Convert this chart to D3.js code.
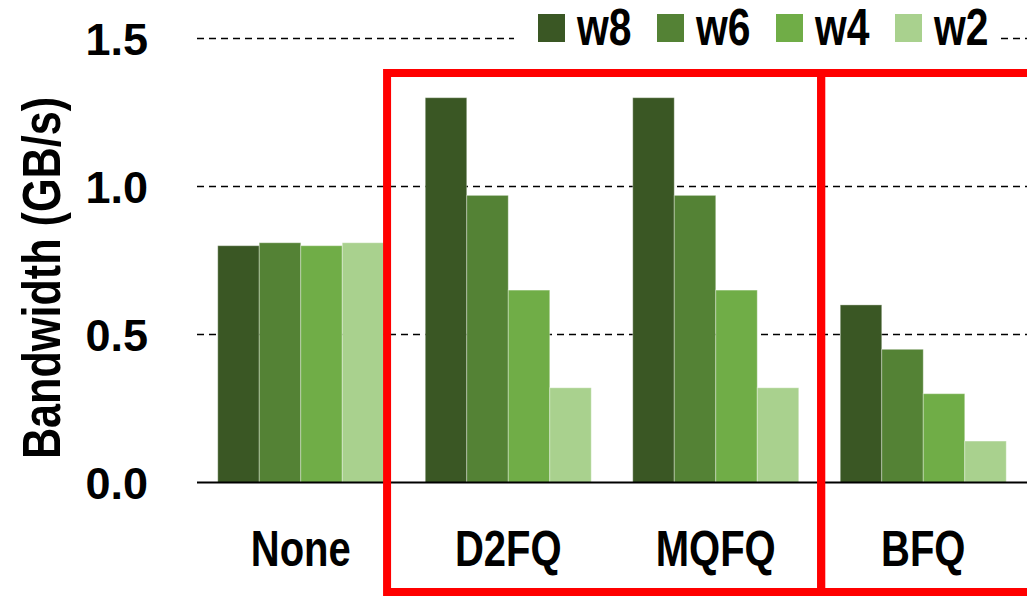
<!DOCTYPE html>
<html>
<head>
<meta charset="utf-8">
<script src="https://cdn.jsdelivr.net/npm/d3@7"></script>
<style>
  html, body { margin: 0; padding: 0; background: #fff; }
  svg { display: block; }
</style>
</head>
<body>
<svg id="chart" width="1027" height="596"></svg>
<script>
const categories = ["None", "D2FQ", "MQFQ", "BFQ"];
const seriesNames = ["w8", "w6", "w4", "w2"];
const w8 = [0.80, 1.30, 1.30, 0.60];
const w6 = [0.81, 0.97, 0.97, 0.45];
const w4 = [0.80, 0.65, 0.65, 0.30];
const w2 = [0.81, 0.32, 0.32, 0.14];
const seriesColors = ["#3A5724", "#548235", "#70AD47", "#A9D18E"];
const yTicks = [0, 0.5, 1.0, 1.5];
const yTickLabels = ["0.0", "0.5", "1.0", "1.5"];
const yTitle = "Bandwidth (GB/s)";
const highlightGroups = [["D2FQ", "MQFQ"], ["BFQ"]];

const seriesValues = [w8, w6, w4, w2];
const wide = "'Liberation Sans', Arial, sans-serif";
const NARROW = 0.8;

const svg = d3.select("#chart");
const plotLeft = 197, plotRight = 1027;

const x = d3.scaleBand().domain(categories).range([plotLeft, plotRight])
  .paddingInner(0.2).paddingOuter(0.1);
const xs = d3.scaleBand().domain(seriesNames).range([0, x.bandwidth()]);
const y = d3.scaleLinear().domain([0, 1.5]).range([482.5, 38.5]);

function narrowText(parent, tx, ty, anchor, size, txt, rot) {
  const g = parent.append("g")
    .attr("transform", `translate(${tx},${ty})` + (rot ? ` rotate(${rot})` : "") + ` scale(${NARROW},1)`);
  g.append("text").attr("x", 0).attr("y", 0)
    .attr("text-anchor", anchor)
    .style("font-family", wide).style("font-weight", "bold").style("font-size", size + "px")
    .text(txt);
  return g;
}

// gridlines
svg.append("g").selectAll("line").data(yTicks.filter(d => d > 0)).join("line")
  .attr("x1", plotLeft).attr("x2", plotRight)
  .attr("y1", d => y(d)).attr("y2", d => y(d))
  .attr("stroke", "#000").attr("stroke-width", 1.5)
  .attr("stroke-dasharray", "7,5");

// y tick labels
svg.append("g").selectAll("text").data(yTicks).join("text")
  .attr("x", 148).attr("y", d => y(d)).attr("dy", "0.36em")
  .attr("text-anchor", "end")
  .style("font-family", wide).style("font-weight", "bold").style("font-size", "45px")
  .text((d, i) => yTickLabels[i]);

// y title
narrowText(svg, 60, 278, "middle", 54, yTitle, -90);

// bars
const groups = svg.append("g").selectAll("g").data(categories).join("g")
  .attr("transform", d => `translate(${x(d)},0)`);
groups.selectAll("rect")
  .data((c, ci) => seriesNames.map((s, si) => ({ s, si, v: seriesValues[si][ci] })))
  .join("rect")
  .attr("x", d => xs(d.s)).attr("width", xs.bandwidth())
  .attr("y", d => y(d.v)).attr("height", d => y(0) - y(d.v))
  .attr("fill", d => seriesColors[d.si])
  .attr("stroke", "#fff").attr("stroke-opacity", 0.35).attr("stroke-width", 1);

// x axis line
svg.append("line")
  .attr("x1", plotLeft).attr("x2", plotRight)
  .attr("y1", y(0)).attr("y2", y(0))
  .attr("stroke", "#000").attr("stroke-width", 2);

// category labels
const catG = svg.append("g");
categories.forEach(c => narrowText(catG, x(c) + x.bandwidth() / 2, 566, "middle", 50, c));

// highlight boxes
const gap = x.step() - x.bandwidth();
const leftOffsets = [0.92, 0.46];
highlightGroups.forEach((g, gi) => {
  const x0 = x(g[0]) - gap * leftOffsets[gi];
  let x1 = x(g[g.length - 1]) + x.bandwidth() + gap * 0.54;
  if (g[g.length - 1] === categories[categories.length - 1]) x1 = plotRight + 10;
  svg.append("rect")
    .attr("x", x0).attr("y", 73)
    .attr("width", x1 - x0).attr("height", 592 - 73)
    .attr("fill", "none").attr("stroke", "#FF0000").attr("stroke-width", 8);
});

// legend
const legend = svg.append("g");
legend.append("rect").attr("x", 514).attr("y", 2).attr("width", 482).attr("height", 52).attr("fill", "#fff");
const legX = [538, 657, 776, 895];
seriesNames.forEach((s, i) => {
  legend.append("rect").attr("x", legX[i]).attr("y", 14).attr("width", 27).attr("height", 28)
    .attr("fill", seriesColors[i]);
  narrowText(legend, legX[i] + 39, 45, "start", 51, s);
});
</script>
</body>
</html>
